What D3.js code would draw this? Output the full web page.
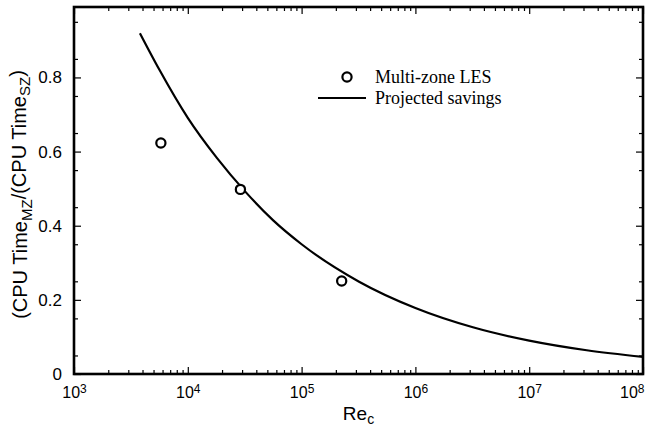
<!DOCTYPE html>
<html>
<head>
<meta charset="utf-8">
<script src="https://cdn.jsdelivr.net/npm/d3@7"></script>
<style>
  body { margin: 0; background: #fff; }
  svg { display: block; }
  .tick text { font-family: "Liberation Sans", Arial, sans-serif; fill: #000; }
</style>
</head>
<body>
<div id="chart"></div>
<script>
// measured multi-zone LES runs
var lesRe = [5800, 29000, 225000];
var lesRatio = [0.623, 0.498, 0.251];

// projected savings curve
var projRe = [3800, 5600, 10000, 18000, 32000, 56000, 100000, 320000, 1000000, 3200000, 10000000, 32000000, 100000000];
var projRatio = [0.919, 0.822, 0.691, 0.583, 0.492, 0.415, 0.350, 0.249, 0.178, 0.126, 0.090, 0.064, 0.046];

var xTickExps = [3, 4, 5, 6, 7, 8];
var yTicks = [0, 0.2, 0.4, 0.6, 0.8];
var yTickLabels = ["0", "0.2", "0.4", "0.6", "0.8"];

const W = 646, H = 430;
const margin = {left: 74, right: 3, top: 7, bottom: 56};
const pw = W - margin.left - margin.right;
const ph = H - margin.top - margin.bottom;

const svg = d3.select("#chart").append("svg")
    .attr("width", W)
    .attr("height", H);

const g = svg.append("g").attr("transform", "translate(" + margin.left + "," + margin.top + ")");

const x = d3.scaleLog().domain([1e3, 1e8]).range([0, pw]);
const y = d3.scaleLinear().domain([0, 0.99]).range([ph, 0]);

// minor tick values
const xMinor = [];
xTickExps.slice(0, -1).forEach(function(e) {
    for (let k = 2; k <= 9; k++) xMinor.push(k * Math.pow(10, e));
});
const xMajor = xTickExps.map(function(e) { return Math.pow(10, e); });
const yMinor = d3.range(0.05, 0.99, 0.1);

function styleAxis(sel) {
    sel.select(".domain").remove();
    sel.selectAll(".tick line").attr("stroke", "#000").attr("stroke-width", 1.2);
}

// bottom
g.append("g").attr("transform", "translate(0," + ph + ")")
    .call(d3.axisBottom(x).tickValues(xMinor).tickSize(-4).tickFormat(""))
    .call(styleAxis);
const xb = g.append("g").attr("transform", "translate(0," + ph + ")")
    .call(d3.axisBottom(x).tickValues(xMajor).tickSize(-7).tickPadding(9).tickFormat(""))
    .call(styleAxis);
xb.selectAll(".tick text")
    .attr("font-size", 16)
    .attr("dy", "0.95em")
    .each(function(d, i) {
        const t = d3.select(this);
        // last label sits flush with the right edge
        if (i === xTickExps.length - 1) t.attr("text-anchor", "end").attr("x", 1);
        t.append("tspan").text("10");
        t.append("tspan").attr("dy", "-0.45em").attr("font-size", 12).text(xTickExps[i]);
    });

// top
g.append("g")
    .call(d3.axisTop(x).tickValues(xMinor).tickSize(-4).tickFormat(""))
    .call(styleAxis);
g.append("g")
    .call(d3.axisTop(x).tickValues(xMajor).tickSize(-7).tickFormat(""))
    .call(styleAxis);

// left
g.append("g")
    .call(d3.axisLeft(y).tickValues(yMinor).tickSize(-4).tickFormat(""))
    .call(styleAxis);
g.append("g")
    .call(d3.axisLeft(y).tickValues(yTicks).tickSize(-7).tickPadding(12)
        .tickFormat(function(d, i) { return yTickLabels[i]; }))
    .call(styleAxis)
    .selectAll(".tick text").attr("font-size", 17);

// right
g.append("g").attr("transform", "translate(" + pw + ",0)")
    .call(d3.axisRight(y).tickValues(yMinor).tickSize(-4).tickFormat(""))
    .call(styleAxis);
g.append("g").attr("transform", "translate(" + pw + ",0)")
    .call(d3.axisRight(y).tickValues(yTicks).tickSize(-7).tickFormat(""))
    .call(styleAxis);

// frame
g.append("rect")
    .attr("width", pw)
    .attr("height", ph)
    .attr("fill", "none")
    .attr("stroke", "#000")
    .attr("stroke-width", 2.6);

// projected savings
const line = d3.line()
    .x(function(d, i) { return x(projRe[i]); })
    .y(function(d) { return y(d); })
    .curve(d3.curveMonotoneX);

g.append("path")
    .datum(projRatio)
    .attr("d", line)
    .attr("fill", "none")
    .attr("stroke", "#000")
    .attr("stroke-width", 2.2);

// LES points
g.selectAll("circle.les")
    .data(lesRatio)
    .enter().append("circle")
    .attr("class", "les")
    .attr("cx", function(d, i) { return x(lesRe[i]); })
    .attr("cy", function(d) { return y(d); })
    .attr("r", 4.6)
    .attr("fill", "#fff")
    .attr("stroke", "#000")
    .attr("stroke-width", 2.2);

// legend
const leg = svg.append("g").attr("font-family", "'Liberation Serif', 'Times New Roman', serif").attr("font-size", 18);
leg.append("circle").attr("cx", 347).attr("cy", 77).attr("r", 4.6)
    .attr("fill", "#fff").attr("stroke", "#000").attr("stroke-width", 2.2);
leg.append("text").attr("x", 375).attr("y", 83).text("Multi-zone LES");
leg.append("line").attr("x1", 318).attr("x2", 366).attr("y1", 98).attr("y2", 98)
    .attr("stroke", "#000").attr("stroke-width", 2.2);
leg.append("text").attr("x", 375).attr("y", 104).text("Projected savings");

// axis titles
const xt = svg.append("text")
    .attr("x", margin.left + pw / 2)
    .attr("y", 420)
    .attr("text-anchor", "middle")
    .attr("font-family", "'Liberation Sans', Arial, sans-serif")
    .attr("font-size", 19);
xt.append("tspan").text("Re");
xt.append("tspan").attr("dy", "0.25em").attr("font-size", 14).text("c");

const yt = svg.append("text")
    .attr("transform", "translate(27," + (margin.top + ph / 2 + 4) + ") rotate(-90)")
    .attr("text-anchor", "middle")
    .attr("font-family", "'Liberation Sans', Arial, sans-serif")
    .attr("font-size", 20);
yt.append("tspan").text("(CPU Time");
yt.append("tspan").attr("dy", "0.3em").attr("font-size", 15).text("MZ");
yt.append("tspan").attr("dy", "-0.3em").text("/(CPU Time");
yt.append("tspan").attr("dy", "0.3em").attr("font-size", 15).text("SZ");
yt.append("tspan").attr("dy", "-0.3em").text(")");
</script>
</body>
</html>
